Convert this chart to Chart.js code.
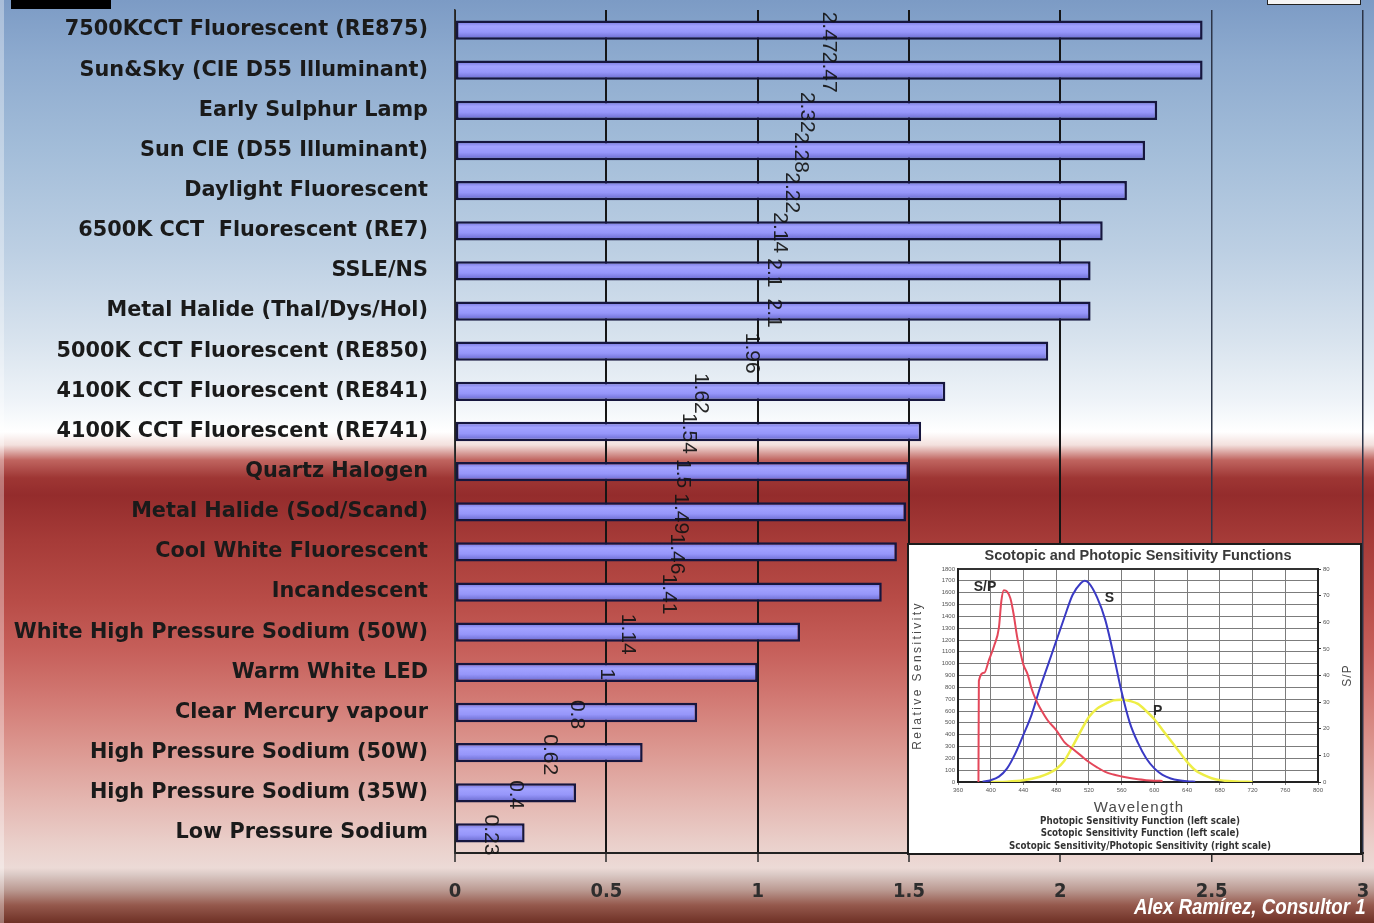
<!DOCTYPE html>
<html>
<head>
<meta charset="utf-8">
<title>S/P ratio of light sources</title>
<script src="https://cdn.jsdelivr.net/npm/chart.js@4.4.1/dist/chart.umd.min.js"></script>
<style>
  html, body { margin: 0; padding: 0; overflow: hidden; }
  #stage {
    position: relative; width: 1374px; height: 923px; overflow: hidden;
    background: linear-gradient(to bottom,
      #7c9bc5 0px, #8eabcf 60px, #a3bdd9 150px, #bccfe3 250px, #d8e3ee 340px,
      #eef3f8 400px, #ffffff 432px, #f3e0dd 445px, #c06560 460px, #9e3634 478px,
      #942c2c 495px, #a63b38 540px, #b84c47 600px, #c65f5a 650px, #d27a74 700px,
      #dc9891 750px, #e4b6b0 800px, #ead0cb 845px, #ecdad6 868px, #dccbc7 874px,
      #bb9a92 890px, #95594d 905px, #6e3025 923px);
  }
  #main { position: absolute; left: 0; top: 0; }
  #edge { position: absolute; left: 0; top: 0; width: 4px; height: 923px; background: rgba(255,255,255,0.35); }
  #tab { position: absolute; left: 11px; top: 0; width: 100px; height: 9px; background: #000; }
  #box { position: absolute; left: 1267px; top: -2px; width: 92px; height: 5px; border: 1.5px solid #222; background: #f4f4f4; }
  #inset {
    position: absolute; left: 907px; top: 543px; width: 451px; height: 308px;
    border: 2px solid #1c1c1c; background: #ffffff;
  }
  #insetCanvas { position: absolute; left: 0; top: 0; }
  #credit {
    position: absolute; right: 8px; top: 894px; line-height: 24px;
    font: italic bold 22px "Liberation Sans", Arial, sans-serif;
    color: #ffffff; white-space: nowrap;
    transform: scaleX(0.85); transform-origin: right center;
  }
</style>
</head>
<body>
<div id="stage">
  <div id="edge"></div>
  <canvas id="main" width="1374" height="923"></canvas>
  <div id="tab"></div>
  <div id="box"></div>
  <div id="inset"><canvas id="insetCanvas" width="451" height="308"></canvas></div>
  <div id="credit">Alex Ramírez, Consultor 1</div>
</div>
<script>
// Scotopic/photopic (S/P) ratio of common light sources
const categories = [
  '7500KCCT Fluorescent (RE875)',
  'Sun&Sky (CIE D55 Illuminant)',
  'Early Sulphur Lamp',
  'Sun CIE (D55 Illuminant)',
  'Daylight Fluorescent',
  '6500K CCT  Fluorescent (RE7)',
  'SSLE/NS',
  'Metal Halide (Thal/Dys/Hol)',
  '5000K CCT Fluorescent (RE850)',
  '4100K CCT Fluorescent (RE841)',
  '4100K CCT Fluorescent (RE741)',
  'Quartz Halogen',
  'Metal Halide (Sod/Scand)',
  'Cool White Fluorescent',
  'Incandescent',
  'White High Pressure Sodium (50W)',
  'Warm White LED',
  'Clear Mercury vapour',
  'High Pressure Sodium (50W)',
  'High Pressure Sodium (35W)',
  'Low Pressure Sodium'
];
const spRatios = [2.47, 2.47, 2.32, 2.28, 2.22, 2.14, 2.1, 2.1, 1.96, 1.62, 1.54,
                  1.5, 1.49, 1.46, 1.41, 1.14, 1, 0.8, 0.62, 0.4, 0.23];
const ratioMin = 0;
const ratioMax = 3;
const ratioStep = 0.5;

// Sensitivity curves (wavelength in nm)
const scotopicNm  = [390,400,410,420,430,440,450,460,470,480,490,500,510,515,520,530,540,550,560,570,580,590,600,610,620,630,640,650];
const scotopicRel = [3,15,45,115,240,400,570,790,990,1190,1390,1580,1680,1700,1680,1560,1370,1080,760,500,330,200,115,60,30,14,6,2];
const photopicNm  = [400,420,440,460,470,480,490,500,510,520,530,540,550,560,570,580,590,600,610,620,630,640,650,660,670,680,690,700,720];
const photopicRel = [0,3,15,45,70,110,180,300,430,550,620,660,690,695,685,660,600,530,440,350,260,170,100,60,32,16,8,4,0];
const ratioNm     = [385,385.5,392,398,404,410,413,416,420,424,428,432,436,440,445,450,455,460,470,480,490,500,510,520,530,540,550,560,570,580,590,600,610];
const ratioSP     = [0,38,41,46,51,58,68,72,71.5,69,63,55,49,44,40.5,35,31,28,23,19.5,15,12.5,10,7.5,5.5,3.8,2.8,2.1,1.5,1,0.7,0.5,0.4];
const wlMin = 360, wlMax = 800, wlStep = 40;
const relMax = 1800, relStep = 100;
const spMax = 80, spStep = 10;

const insetTitle = 'Scotopic and Photopic Sensitivity Functions';
const insetCaptions = [
  'Photopic Sensitivity Function (left scale)',
  'Scotopic Sensitivity Function (left scale)',
  'Scotopic Sensitivity/Photopic Sensitivity (right scale)'
];
const curveTags = [
  { text: 'S/P', nm: 393, rel: 1650 },
  { text: 'S',   nm: 545, rel: 1555 },
  { text: 'P',   nm: 604, rel: 600 }
];

const condensed = '"DejaVu Sans Condensed", "Liberation Sans", sans-serif';
const plainNumber = v => String(Number(Number(v).toFixed(2)));

// cylinder-like shading across each bar
function barFill(context) {
  const chart = context.chart;
  const yScale = chart.scales.y;
  const solid = '#9090f4';
  if (!yScale || context.dataIndex === undefined) return solid;
  const yc = yScale.getPixelForValue(context.dataIndex);
  if (!isFinite(yc)) return solid;
  const half = 10;
  const g = chart.ctx.createLinearGradient(0, yc - half, 0, yc + half);
  g.addColorStop(0, '#6a6ad2');
  g.addColorStop(0.3, '#a2a2ff');
  g.addColorStop(0.6, '#9696fa');
  g.addColorStop(1, '#6262c6');
  return g;
}

// value written vertically at the middle of each bar
const valueLabels = {
  id: 'valueLabels',
  afterDatasetsDraw(chart) {
    const { ctx } = chart;
    const meta = chart.getDatasetMeta(0);
    const values = chart.data.datasets[0].data;
    ctx.save();
    ctx.font = '21px "Liberation Sans", Arial, sans-serif';
    ctx.fillStyle = '#141414';
    ctx.globalAlpha = 0.92;
    ctx.textAlign = 'center';
    ctx.textBaseline = 'middle';
    meta.data.forEach((bar, i) => {
      const cx = (bar.x + bar.base) / 2;
      ctx.save();
      ctx.translate(cx, bar.y + 2);
      ctx.rotate(Math.PI / 2);
      ctx.fillText(plainNumber(values[i]), 0, 0);
      ctx.restore();
    });
    ctx.restore();
  }
};

function noEdgePadding(scale) {
  scale.paddingTop = 0; scale.paddingBottom = 0;
  scale.paddingLeft = 0; scale.paddingRight = 0;
}

new Chart(document.getElementById('main'), {
  type: 'bar',
  data: {
    labels: categories,
    datasets: [{
      data: spRatios,
      backgroundColor: barFill,
      borderColor: '#16163e',
      borderWidth: 2.5,
      borderSkipped: false,
      categoryPercentage: 1,
      barPercentage: 0.48
    }]
  },
  options: {
    indexAxis: 'y',
    responsive: false,
    animation: false,
    devicePixelRatio: 1,
    layout: { padding: { top: 10, right: 11, left: 0, bottom: 0 } },
    plugins: { legend: { display: false }, tooltip: { enabled: false } },
    scales: {
      x: {
        min: ratioMin, max: ratioMax,
        ticks: { stepSize: ratioStep, color: '#2e2e2e', padding: 18, maxRotation: 0,
                 callback: plainNumber,
                 font: { family: condensed, size: 20, weight: 'bold' } },
        grid: {
          color: c => (c.tick && c.tick.value >= 2.5) ? '#2c3548' : '#151515',
          lineWidth: c => (c.tick && c.tick.value >= 2.5) ? 1.5 : 2,
          tickLength: 9, tickColor: '#2a2a2a', tickWidth: 1.5
        },
        border: { display: true, color: '#222222', width: 2 },
        afterFit: s => { s.height = 70; noEdgePadding(s); }
      },
      y: {
        ticks: { color: '#1a1a1a', padding: 27, autoSkip: false,
                 font: { family: '"DejaVu Sans", sans-serif', size: 20.8, weight: 'bold' } },
        grid: { display: false, drawTicks: false },
        border: { display: true, color: '#333333', width: 1.5 },
        afterFit: s => { s.width = 455; noEdgePadding(s); }
      }
    }
  },
  plugins: [valueLabels]
});

// titles, captions and curve names of the sensitivity panel
const insetText = {
  id: 'insetText',
  afterDraw(chart) {
    const { ctx, scales } = chart;
    const ca = chart.chartArea;
    const midX = (ca.left + ca.right) / 2;
    const midY = (ca.top + ca.bottom) / 2;
    ctx.save();
    ctx.textAlign = 'center';
    ctx.textBaseline = 'middle';

    ctx.fillStyle = '#3a3a3a';
    ctx.font = 'bold 14.5px "Liberation Sans", Arial, sans-serif';
    ctx.fillText(insetTitle, midX, ca.top - 13);

    ctx.fillStyle = '#4a4a4a';
    ctx.font = '15px "Liberation Sans", Arial, sans-serif';
    ctx.letterSpacing = '1.2px';
    ctx.fillText('Wavelength', midX + 1, ca.bottom + 26);

    ctx.save();
    ctx.font = '12px "Liberation Sans", Arial, sans-serif';
    ctx.letterSpacing = '2.4px';
    ctx.translate(9, midY);
    ctx.rotate(-Math.PI / 2);
    ctx.fillText('Relative Sensitivity', 0, 0);
    ctx.restore();

    ctx.save();
    ctx.font = '12px "Liberation Sans", Arial, sans-serif';
    ctx.letterSpacing = '1px';
    ctx.translate(ca.right + 30, midY);
    ctx.rotate(-Math.PI / 2);
    ctx.fillText('S/P', 0, 0);
    ctx.restore();

    ctx.letterSpacing = '0px';
    ctx.fillStyle = '#333333';
    ctx.font = 'bold 9.7px ' + condensed;
    insetCaptions.forEach((line, i) => ctx.fillText(line, midX + 2, ca.bottom + 39 + i * 12.5));

    ctx.fillStyle = '#2a2a2a';
    ctx.font = 'bold 14px "Liberation Sans", Arial, sans-serif';
    curveTags.forEach(t => {
      ctx.fillText(t.text, scales.x.getPixelForValue(t.nm), scales.yRel.getPixelForValue(t.rel));
    });
    ctx.restore();
  }
};

const toPoints = (xs, ys) => xs.map((x, i) => ({ x: x, y: ys[i] }));
const tinyTicks = { size: 6, family: '"Liberation Sans", Arial, sans-serif' };

new Chart(document.getElementById('insetCanvas'), {
  type: 'line',
  data: {
    datasets: [
      { label: 'S/P', data: toPoints(ratioNm, ratioSP), yAxisID: 'ySP',
        borderColor: '#e4475a', borderWidth: 2 },
      { label: 'S', data: toPoints(scotopicNm, scotopicRel), yAxisID: 'yRel',
        borderColor: '#3a3ac4', borderWidth: 2 },
      { label: 'P', data: toPoints(photopicNm, photopicRel), yAxisID: 'yRel',
        borderColor: '#eeee46', borderWidth: 2.5 }
    ]
  },
  options: {
    responsive: false,
    animation: false,
    devicePixelRatio: 1,
    elements: { point: { radius: 0 }, line: { cubicInterpolationMode: 'monotone' } },
    layout: { padding: { top: 24, bottom: 57, left: 0, right: 0 } },
    plugins: { legend: { display: false }, tooltip: { enabled: false } },
    scales: {
      x: {
        type: 'linear', min: wlMin, max: wlMax,
        ticks: { stepSize: wlStep, color: '#555555', padding: 2, maxRotation: 0,
                 callback: plainNumber, font: tinyTicks },
        grid: { color: '#7c7c7c', lineWidth: 1, tickLength: 3 },
        border: { display: true, color: '#222222', width: 2 },
        afterFit: s => { s.height = 14; noEdgePadding(s); }
      },
      yRel: {
        position: 'left', min: 0, max: relMax,
        ticks: { stepSize: relStep, color: '#555555', padding: 3,
                 callback: plainNumber, font: tinyTicks },
        grid: { color: c => (c.tick && c.tick.value === relMax) ? '#333333' : '#7c7c7c',
                lineWidth: c => (c.tick && c.tick.value === relMax) ? 2 : 1, drawTicks: false },
        border: { display: true, color: '#222222', width: 2 },
        afterFit: s => { s.width = 49; noEdgePadding(s); }
      },
      ySP: {
        position: 'right', min: 0, max: spMax,
        ticks: { stepSize: spStep, color: '#555555', padding: 2,
                 callback: plainNumber, font: tinyTicks },
        grid: { drawOnChartArea: false, tickLength: 3, color: '#333333' },
        border: { display: true, color: '#222222', width: 2 },
        afterFit: s => { s.width = 42; noEdgePadding(s); }
      }
    }
  },
  plugins: [insetText]
});
</script>
</body>
</html>
